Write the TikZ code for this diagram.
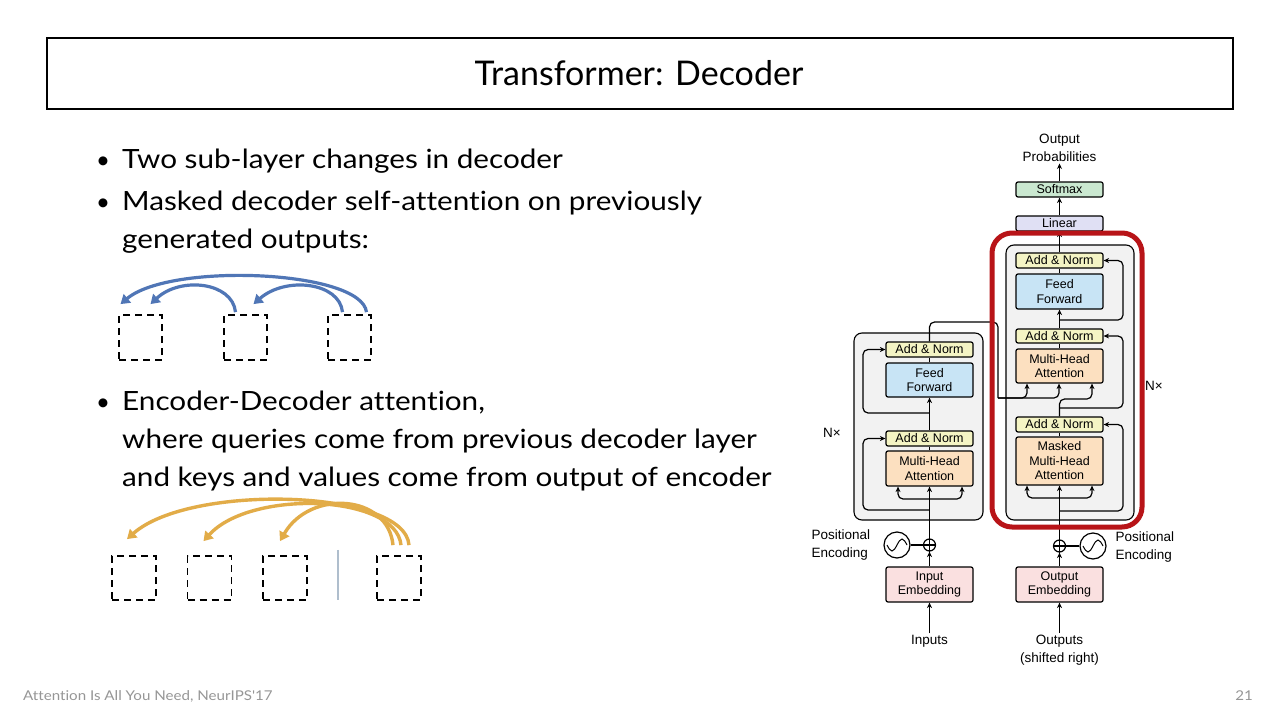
\documentclass[tikz,border=0pt]{standalone}
\usepackage{fontspec}
\setmainfont{Lato}[Ligatures=NoCommon]
\newfontfamily\bodyfont{Lato}[FakeStretch=1.12,Ligatures=NoCommon]
\newfontfamily\diagfont{Liberation Sans}
\usetikzlibrary{arrows.meta}
\definecolor{anfill}{RGB}{244,244,196}
\definecolor{fffill}{RGB}{200,228,245}
\definecolor{mhafill}{RGB}{252,224,192}
\definecolor{embfill}{RGB}{250,224,224}
\definecolor{linfill}{RGB}{224,224,244}
\definecolor{smfill}{RGB}{202,232,208}
\definecolor{stackfill}{RGB}{242,242,242}
\definecolor{redbox}{RGB}{184,20,24}
\definecolor{bluearc}{RGB}{80,118,182}
\definecolor{orangearc}{RGB}{226,172,72}
\definecolor{footgray}{RGB}{150,150,150}
\definecolor{divider}{RGB}{175,190,205}
\begin{document}
\begin{tikzpicture}[x=1pt,y=-1pt,
  blk/.style={draw,line width=1.2pt,rounded corners=2pt,minimum width=87pt,inner sep=0pt,
    font=\diagfont\fontsize{12.5}{14.5}\selectfont,align=center},
  an/.style={blk,fill=anfill,minimum height=15pt},
  stack/.style={draw,line width=1.1pt,rounded corners=8pt,fill=stackfill,inner sep=0pt},
  lbl/.style={font=\diagfont\fontsize{13.5}{18}\selectfont,inner sep=1.5pt,align=center},
  conn/.style={line width=1.2pt},
  arr/.style={conn,-{Stealth[length=5.5pt,width=5pt]}},
  dbox/.style={draw,dashed,dash pattern=on 7pt off 5pt,line width=1.8pt,inner sep=0pt},
  barrow/.style={line width=3.2pt,bluearc,-{Triangle[length=9pt,width=11pt]}},
  oarrow/.style={line width=3.4pt,orangearc,-{Triangle[length=9pt,width=11pt]}},
  bul/.style={anchor=base west,inner sep=0pt,font=\bodyfont\fontsize{26.5}{30}\selectfont},
  dot/.style={anchor=base,inner sep=0pt,font=\fontsize{24}{30}\selectfont}
]
\useasboundingbox (0,0) rectangle (1280,720);
\fill[white] (0,0) rectangle (1280,720);

% title
\node[draw,line width=2pt,minimum width=1186pt,minimum height=71pt,inner sep=0pt] (titlebox) at (640,73.5) {};
\node[anchor=base,inner sep=0pt,font=\fontsize{34}{40}\selectfont] (title) at (639,85) {Transformer: Decoder};

% bullets
\node[dot] (d1) at (103,168) {•};
\node[bul] (t1) at (122,168) {Two sub-layer changes in decoder};
\node[dot] (d2) at (103,210) {•};
\node[bul] (t2) at (122,210) {Masked decoder self-attention on previously};
\node[bul] (t3) at (122,248) {generated outputs:};
\node[dot] (d3) at (103,410) {•};
\node[bul] (t4) at (122,410) {Encoder-Decoder attention,};
\node[bul] (t5) at (122,448) {where queries come from previous decoder layer};
\node[bul] (t6) at (122,486) {and keys and values come from output of encoder};

% masked self-attention illustration
\node[dbox,minimum width=43pt,minimum height=45pt] (b1) at (140.5,337.5) {};
\node[dbox,minimum width=43pt,minimum height=45pt] (b2) at (245.5,337.5) {};
\node[dbox,minimum width=43pt,minimum height=45pt] (b3) at (349.5,337.5) {};
\draw[barrow] ([shift={(-10pt,2pt)}]b2.north) .. controls +(-3,-30) and +(30,-28) .. ([shift={(10pt,10pt)}]b1.north);
\draw[barrow] ([shift={(-7pt,2pt)}]b3.north) .. controls +(-3,-30) and +(32,-28) .. ([shift={(8pt,10pt)}]b2.north);
\draw[barrow] ([shift={(17pt,2pt)}]b3.north) .. controls +(-5,-42) and +(50,-42) .. ([shift={(-20pt,10pt)}]b1.north);

% encoder-decoder illustration
\node[dbox,minimum width=44pt,minimum height=44pt] (o1) at (134,578) {};
\node[dbox,minimum width=44pt,minimum height=44pt] (o2) at (209.5,578) {};
\node[dbox,minimum width=44pt,minimum height=44pt] (o3) at (285,578) {};
\node[dbox,minimum width=44pt,minimum height=44pt] (o4) at (399,578) {};
\node[inner sep=0pt,minimum width=1pt,minimum height=50pt] (sep) at (338,575) {};
\draw[divider,line width=1.2pt] (sep.north) -- (sep.south);
\draw[oarrow] ([shift={(10pt,10pt)}]o4.north) .. controls +(-4,-56) and +(63,-56) .. ([shift={(-7pt,16pt)}]o1.north);
\draw[oarrow] ([shift={(2pt,10pt)}]o4.north) .. controls +(-5,-51) and +(47,-52) .. ([shift={(-6pt,14pt)}]o2.north);
\draw[oarrow] ([shift={(-6pt,10pt)}]o4.north) .. controls +(-5,-51) and +(30,-52) .. ([shift={(-5pt,14pt)}]o3.north);

% footer
\node[anchor=base west,inner sep=0pt,text=footgray,font=\bodyfont\fontsize{13.5}{16}\selectfont] (foot) at (23,700) {Attention Is All You Need, NeurIPS'17};
\node[anchor=base east,inner sep=0pt,text=footgray,font=\bodyfont\fontsize{13.5}{16}\selectfont] (page) at (1253,700) {21};

% ===== transformer diagram =====
\node[stack,minimum width=129pt,minimum height=187pt] (ebox) at (918.5,426.5) {};
\node[stack,minimum width=128pt,minimum height=275pt] (dbox) at (1070,382.5) {};

% encoder
\node[an] (eAN2) at (929.5,349.5) {Add \& Norm};
\node[blk,fill=fffill,minimum height=34pt] (eFF) at (929.5,380) {Feed\\Forward};
\node[an] (eAN1) at (929.5,438.5) {Add \& Norm};
\node[blk,fill=mhafill,minimum height=35pt] (eMHA) at (929.5,468.5) {Multi-Head\\Attention};
\node[blk,fill=embfill,minimum height=35pt] (eEmb) at (929.5,584.5) {Input\\Embedding};
\node[draw,circle,line width=1.2pt,minimum size=12pt,inner sep=0pt] (ePlus) at (929.5,545) {};
\node[draw,circle,line width=1.2pt,minimum size=26pt,inner sep=0pt] (eSin) at (897,545) {};
\node[lbl,align=left,anchor=west] (ePE) at (810,545) {Positional\\Encoding};
\node[lbl] (inputs) at (929.5,641) {Inputs};
\node[lbl] (eN) at (832,433) {N×};

% decoder
\node[an] (dAN3) at (1059.5,260.5) {Add \& Norm};
\node[blk,fill=fffill,minimum height=35pt] (dFF) at (1059.5,291.5) {Feed\\Forward};
\node[an,minimum height=14pt] (dAN2) at (1059.5,336) {Add \& Norm};
\node[blk,fill=mhafill,minimum height=34pt] (dMHA) at (1059.5,366) {Multi-Head\\Attention};
\node[an] (dAN1) at (1059.5,424.5) {Add \& Norm};
\node[blk,fill=mhafill,minimum height=48pt] (dMMHA) at (1059.5,461) {Masked\\Multi-Head\\Attention};
\node[blk,fill=embfill,minimum height=35pt] (dEmb) at (1059.5,584.5) {Output\\Embedding};
\node[draw,circle,line width=1.2pt,minimum size=12pt,inner sep=0pt] (dPlus) at (1059.5,546) {};
\node[draw,circle,line width=1.2pt,minimum size=26pt,inner sep=0pt] (dSin) at (1093,546) {};
\node[lbl,align=left,anchor=west] (dPE) at (1114,547) {Positional\\Encoding};
\node[lbl] (outputs) at (1059.5,650) {Outputs\\(shifted right)};
\node[blk,fill=linfill,minimum height=15pt] (lin) at (1059.5,223.5) {Linear};
\node[blk,fill=smfill,minimum height=15pt] (soft) at (1059.5,189.5) {Softmax};
\node[lbl] (outprob) at (1059.5,148) {Output\\Probabilities};
\node[lbl] (dN) at (1154,386) {N×};

% plus signs and sine waves
\draw[conn] (ePlus.north) -- (ePlus.south) (ePlus.west) -- (ePlus.east);
\draw[conn] (dPlus.north) -- (dPlus.south) (dPlus.west) -- (dPlus.east);
\draw[line width=1pt] ([xshift=-10pt]eSin.center) sin ++(5,6) cos ++(5,-6) sin ++(5,-6) cos ++(5,6);
\draw[line width=1pt] ([xshift=-10pt]dSin.center) sin ++(5,6) cos ++(5,-6) sin ++(5,-6) cos ++(5,6);

% branch points
\coordinate (eB1) at (929.5,510);
\coordinate (eB2) at (929.5,499);
\coordinate (eB3) at (929.5,413);
\coordinate (dB1) at (1059.5,511);
\coordinate (dB2) at (1059.5,498);
\coordinate (dB3) at (1059.5,408);
\coordinate (dB5) at (1059.5,320);
\coordinate (eOut) at (998,322);
\coordinate (eIn) at (998,398);

% encoder connectors
\draw[arr] (inputs.north) -- (eEmb.south);
\draw[arr] (eEmb.north) -- (ePlus.south);
\draw[conn] (eSin.east) -- (ePlus.west);
\draw[arr] (ePlus.north) -- (eMHA.south);
\draw[arr,rounded corners=5pt] (eB1) -- (863,510) |- (eAN1.west);
\draw[arr,rounded corners=5pt] (eB2) -| ([xshift=-31.5pt]eMHA.south);
\draw[arr,rounded corners=5pt] (eB2) -| ([xshift=32.5pt]eMHA.south);
\draw[conn] (eMHA.north) -- (eAN1.south);
\draw[arr] (eAN1.north) -- (eFF.south);
\draw[arr,rounded corners=5pt] (eB3) -- (863,413) |- (eAN2.west);
\draw[conn] (eFF.north) -- (eAN2.south);
\draw[conn,rounded corners=5pt] (eAN2.north) |- (eOut) -- (eIn);
\draw[arr,rounded corners=5pt] (eIn) -| ([xshift=-0.5pt]dMHA.south);
\draw[arr,rounded corners=5pt] (eIn) -| ([xshift=-32.5pt]dMHA.south);

% decoder connectors
\draw[arr] (outputs.north) -- (dEmb.south);
\draw[arr] (dEmb.north) -- (dPlus.south);
\draw[conn] (dSin.west) -- (dPlus.east);
\draw[arr] (dPlus.north) -- (dMMHA.south);
\draw[arr,rounded corners=5pt] (dB1) -- (1123,511) |- (dAN1.east);
\draw[arr,rounded corners=5pt] (dB2) -| ([xshift=-32.5pt]dMMHA.south);
\draw[arr,rounded corners=5pt] (dB2) -| ([xshift=32.5pt]dMMHA.south);
\draw[conn] (dMMHA.north) -- (dAN1.south);
\draw[arr,rounded corners=5pt] (dAN1.north) -- (1059.5,399) -| ([xshift=32.5pt]dMHA.south);
\draw[arr,rounded corners=5pt] (dB3) -- (1123,408) |- (dAN2.east);
\draw[conn] (dMHA.north) -- (dAN2.south);
\draw[arr] (dAN2.north) -- (dFF.south);
\draw[arr,rounded corners=5pt] (dB5) -- (1123,320) |- (dAN3.east);
\draw[conn] (dFF.north) -- (dAN3.south);
\draw[arr] (dAN3.north) -- (lin.south);
\draw[arr] (lin.north) -- (soft.south);
\draw[arr] (soft.north) -- (outprob.south);

% red highlight
\node[draw=redbox,line width=5pt,rounded corners=20pt,minimum width=150pt,minimum height=294pt,inner sep=0pt] (hl) at (1067,380) {};
\end{tikzpicture}
\end{document}
